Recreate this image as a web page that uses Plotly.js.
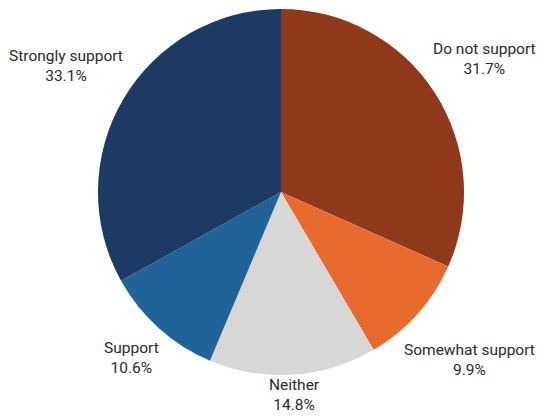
<!DOCTYPE html>
<html>
<head>
<meta charset="utf-8">
<script src="https://cdn.plot.ly/plotly-3.0.1.min.js"></script>
<style>html,body{margin:0;padding:0;background:#fff;}#chart{width:539px;height:418px;}</style>
</head>
<body>
<div id="chart"></div>
<script>
const categories = ["Do not support", "Somewhat support", "Neither", "Support", "Strongly support"];
const shares = [31.7, 9.9, 14.8, 10.6, 33.1];
const sliceColors = ["#8e391c", "#e76a2f", "#d7d7d5", "#1f6399", "#1c3a63"];

const W = 539, H = 418;
const domainX = [0.1818, 0.8609];
const domainY = [0.1029, 0.9785];
const FONT_FAMILY = "Roboto";
const FONT_SIZE = 15.5;
const LINE_H = FONT_SIZE * 1.3;
const GAP = 7;
const EDGE = 3;

const trace = {
  type: "pie",
  labels: categories,
  values: shares,
  sort: false,
  direction: "clockwise",
  rotation: 0,
  marker: {colors: sliceColors, line: {width: 0}},
  textinfo: "none",
  automargin: false,
  showlegend: false,
  hoverinfo: "label+value",
  domain: {x: domainX, y: domainY}
};

// Outside labels: placed along each slice's mid-angle, just outside the rim,
// kept inside the page.
const ctx = document.createElement("canvas").getContext("2d");
ctx.font = FONT_SIZE + "px " + FONT_FAMILY;
const total = shares.reduce((a, b) => a + b, 0);
const cxPx = (domainX[0] + domainX[1]) / 2 * W;
const cyPx = (1 - (domainY[0] + domainY[1]) / 2) * H;
const rPx = Math.min((domainX[1] - domainX[0]) * W, (domainY[1] - domainY[0]) * H) / 2;

let cum = 0;
const annotations = categories.map((cat, i) => {
  const mid = (cum + shares[i] / 2) / total * 2 * Math.PI;
  cum += shares[i];
  const pct = shares[i].toFixed(1) + "%";
  const w = Math.max(ctx.measureText(cat).width, ctx.measureText(pct).width);
  const h = 2 * LINE_H;
  const s = Math.sin(mid), c = Math.cos(mid);
  const ext = Math.abs(s) * w / 2 + Math.abs(c) * h / 2;
  const d = rPx + GAP + ext;
  let px = cxPx + d * s;
  let py = cyPx - d * c;
  px = Math.min(Math.max(px, w / 2 + EDGE), W - w / 2 - EDGE);
  py = Math.min(Math.max(py, h / 2 + EDGE), H - h / 2 - EDGE);
  return {
    x: px / W, y: 1 - py / H, xref: "paper", yref: "paper",
    xanchor: "center", yanchor: "middle", showarrow: false,
    text: cat + "<br>" + pct,
    font: {family: FONT_FAMILY, size: FONT_SIZE, color: "#2b2b2b"},
    align: "center"
  };
});

const layout = {
  width: W,
  height: H,
  margin: {l: 0, r: 0, t: 0, b: 0},
  paper_bgcolor: "#ffffff",
  showlegend: false,
  annotations: annotations
};

Plotly.newPlot("chart", [trace], layout, {displayModeBar: false, staticPlot: true});
</script>
</body>
</html>
